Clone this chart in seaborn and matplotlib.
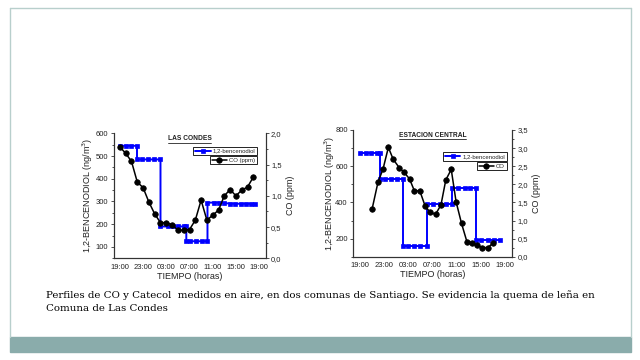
import matplotlib
matplotlib.use("Agg")
import matplotlib.pyplot as plt
import seaborn as sns
from matplotlib.lines import Line2D
from matplotlib.patches import Rectangle
from matplotlib.ticker import MultipleLocator

# Estilo base
sns.set_style("white")
plt.rcParams['font.family'] = ['Liberation Sans', 'DejaVu Sans']

# Eje de tiempo: horas desde las 19:00
hour_ticks = [0, 4, 8, 12, 16, 20, 24]
hour_labels = ['19:00', '23:00', '03:00', '07:00', '11:00', '15:00', '19:00']

# Las Condes: 1,2-bencenodiol (ng/m3), escalones
lc_hours_benz = [0, 1, 2, 2.95, 2.95, 3.85, 4.85, 5.9, 7.0, 7.0, 8.3, 9.1, 10.1, 11.05, 11.45,
                 11.45, 12.1, 13.1, 14.1, 15.1, 15.1, 16.2, 17.1, 17.9, 18.9, 19.9, 20.8, 21.8, 22.6, 23.3]
lc_benz = [545, 545, 545, 545, 485, 485, 485, 485, 485, 190, 190, 190, 190, 190, 190,
           125, 125, 125, 125, 125, 295, 295, 295, 293, 291, 290, 290, 290, 290, 290]
# Las Condes: CO (ppm)
lc_hours_co = [0, 1, 2, 3, 4, 5, 6, 7, 8, 9, 10, 11, 12, 13, 14, 15, 16, 17, 18, 19, 20, 21, 22, 23]
lc_co = [1.78, 1.68, 1.55, 1.22, 1.13, 0.90, 0.71, 0.57, 0.57, 0.54, 0.45, 0.45,
         0.46, 0.61, 0.93, 0.61, 0.69, 0.77, 1.00, 1.10, 1.00, 1.09, 1.14, 1.30]

# Estacion Central
ec_hours_benz = [0, 0.95, 1.9, 2.85, 3.25, 3.25, 4.1, 5.1, 6.1, 7.05, 7.05, 8.0, 9.0, 10.0, 11.1,
                 11.1, 12.1, 13.2, 14.2, 15.2, 15.2, 16.3, 17.3, 18.2, 19.2, 19.2, 20.0, 21.1, 22.2, 23.2]
ec_benz = [675, 675, 675, 675, 675, 530, 530, 530, 530, 530, 160, 160, 160, 160, 160,
           390, 390, 390, 390, 390, 480, 480, 480, 480, 480, 190, 190, 190, 190, 190]
ec_hours_co = [2.0, 3.0, 3.8, 4.7, 5.5, 6.5, 7.3, 8.2, 9.0, 9.9, 10.8, 11.6,
               12.5, 13.4, 14.2, 15.1, 15.9, 16.8, 17.7, 18.5, 19.4, 20.2, 21.1, 22.0]
ec_co = [1.31, 2.07, 2.41, 3.02, 2.69, 2.46, 2.33, 2.15, 1.82, 1.82, 1.39, 1.23,
         1.17, 1.43, 2.12, 2.41, 1.52, 0.92, 0.41, 0.39, 0.32, 0.25, 0.25, 0.37]

# Ticks de los ejes y
lc_left_ticks = [100, 200, 300, 400, 500, 600]
lc_right_ticks = [0.0, 0.5, 1.0, 1.5, 2.0]
lc_right_labels = ['0,0', '0,5', '1,0', '1,5', '2,0']
ec_left_ticks = [200, 400, 600, 800]
ec_right_ticks = [0.0, 0.5, 1.0, 1.5, 2.0, 2.5, 3.0, 3.5]
ec_right_labels = ['0,0', '0,5', '1,0', '1,5', '2,0', '2,5', '3,0', '3,5']

txt = '#222222'
fig = plt.figure(figsize=(6.4, 3.6), dpi=100)

# Marco de la diapositiva
fig.add_artist(Line2D([10/640, 631/640], [1-8/360, 1-8/360], transform=fig.transFigure, color='#b8cfcc', lw=1))
fig.add_artist(Line2D([10/640, 10/640], [1-8/360, 1-337/360], transform=fig.transFigure, color='#b8cfcc', lw=1))
fig.add_artist(Line2D([631/640, 631/640], [1-8/360, 1-337/360], transform=fig.transFigure, color='#b8cfcc', lw=1))
fig.add_artist(Rectangle((10/640, 1-352/360), 621/640, 15/360, transform=fig.transFigure, color='#8aacab'))


def panel(rect, hb, b, hc, c, ylim_l, lticks, lminor, ylim_r, rticks, rlabels,
          title, co_label, leg1, leg2, ylpad):
    ax = fig.add_axes(rect)
    ax2 = ax.twinx()
    sns.lineplot(x=hb, y=b, ax=ax, estimator=None, sort=False, color='blue', marker='s',
                 markersize=3.3, markeredgecolor='blue', markeredgewidth=0.5, linewidth=1.4,
                 label='1,2-bencenodiol', legend=False)
    sns.lineplot(x=hc, y=c, ax=ax2, estimator=None, sort=False, color='black', marker='o',
                 markersize=4.0, markeredgecolor='black', markeredgewidth=0.5, linewidth=1.1,
                 label=co_label, legend=False)
    ax.set_xlim(-1.1, 25.1)
    ax.set_ylim(*ylim_l)
    ax2.set_ylim(*ylim_r)
    ax.set_xticks(hour_ticks)
    ax.set_xticklabels(hour_labels)
    ax.xaxis.set_minor_locator(MultipleLocator(1))
    ax.set_yticks(lticks)
    ax.yaxis.set_minor_locator(MultipleLocator(lminor))
    ax2.set_yticks(rticks)
    ax2.set_yticklabels(rlabels)
    ax2.yaxis.set_minor_locator(MultipleLocator(0.25))
    for a in (ax, ax2):
        a.spines['top'].set_visible(False)
        for s in ('left', 'right', 'bottom'):
            a.spines[s].set_linewidth(0.8)
            a.spines[s].set_color('#333333')
        a.tick_params(which='both', direction='out', width=0.6, labelsize=5.5,
                      colors='#333333', labelcolor=txt, pad=1.5)
        a.tick_params(which='major', length=2.5)
        a.tick_params(which='minor', length=1.5)
        a.grid(False)
    ax.set_xlabel('TIEMPO (horas)', fontsize=6.5, color=txt, labelpad=0.5)
    ax.set_ylabel('1,2-BENCENODIOL (ng/m$^3$)', fontsize=6.5, color=txt, labelpad=ylpad)
    ax2.set_ylabel('CO (ppm)', fontsize=6.5, color=txt, labelpad=3)
    t = ax.text(0.5, 0.985, title, transform=ax.transAxes, ha='center', va='top',
                fontsize=4.8, fontweight='bold', color=txt)
    l1 = ax.legend(loc='upper right', bbox_to_anchor=leg1, fontsize=4.3, frameon=True,
                   fancybox=False, edgecolor='black', framealpha=1, handlelength=2.6,
                   borderpad=0.3, handletextpad=0.3, borderaxespad=0)
    l2 = ax2.legend(loc='upper right', bbox_to_anchor=leg2, fontsize=4.3, frameon=True,
                    fancybox=False, edgecolor='black', framealpha=1, handlelength=2.6,
                    borderpad=0.3, handletextpad=0.3, borderaxespad=0)
    for lg in (l1, l2):
        lg.get_frame().set_linewidth(0.6)
    return t


titles = []
titles.append(panel([113.5/640, 1-258.3/360, 152/640, 125/360],
                    lc_hours_benz, lc_benz, lc_hours_co, lc_co,
                    (50, 600), lc_left_ticks, 50, (0, 2.0), lc_right_ticks, lc_right_labels,
                    'LAS CONDES', 'CO (ppm)', (0.944, 0.893), (0.942, 0.821), 0))
titles.append(panel([353.3/640, 1-256.7/360, 158.4/640, 126.7/360],
                    ec_hours_benz, ec_benz, ec_hours_co, ec_co,
                    (100, 800), ec_left_ticks, 100, (0, 3.5), ec_right_ticks, ec_right_labels,
                    'ESTACION CENTRAL', 'CO', (0.968, 0.824), (0.968, 0.75), -1.0))

# Subrayado de los titulos
fig.canvas.draw()
for t in titles:
    bb = t.get_window_extent()
    fig.add_artist(Line2D([bb.x0/640, bb.x1/640], [(bb.y0 - 0.5)/360, (bb.y0 - 0.5)/360],
                          transform=fig.transFigure, color=txt, lw=0.6))

# Pie de la diapositiva
caption = ['Perfiles de CO y Catecol  medidos en aire, en dos comunas de Santiago. Se evidencia la quema de leña en',
           'Comuna de Las Condes']
for i, line in enumerate(caption):
    fig.text(46/640, 1-(290 + 14*i)/360, line, ha='left', va='top', fontsize=7.35,
             family=['DejaVu Serif'], color='black')

plt.savefig('out.png', dpi=100)
plt.close()
